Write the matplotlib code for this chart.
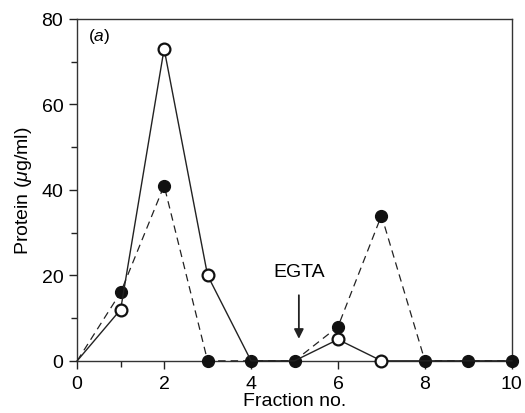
import matplotlib
matplotlib.use("Agg")
import matplotlib.pyplot as plt
from matplotlib.ticker import MultipleLocator

plt.rcParams["font.family"] = ["Liberation Sans", "DejaVu Sans"]
plt.rcParams["mathtext.fontset"] = "custom"
plt.rcParams["mathtext.rm"] = "Liberation Sans"
plt.rcParams["mathtext.it"] = "Liberation Sans:italic"

# dane
fractions = [0, 1, 2, 3, 4, 5, 6, 7, 8, 9, 10]
open_vals = [0, 12, 73, 20, 0, 0, 5, 0, 0, 0, 0]
filled_vals = [0, 16, 41, 0, 0, 0, 8, 34, 0, 0, 0]
open_marked = [1, 2, 3, 6, 7]

fig = plt.figure(figsize=(5.25, 4.14), dpi=100)
ax = fig.add_axes([0.147, 0.126, 0.828, 0.826])

ax.plot(fractions, filled_vals, ls=(0, (6, 4)), lw=0.9, color="#222222",
        marker="o", ms=8.5, mfc="#111111", mec="#111111",
        markevery=list(range(1, len(fractions))), zorder=3, clip_on=False)
ax.plot(fractions, open_vals, ls="-", lw=1.0, color="#222222",
        marker="o", ms=8.5, mfc="white", mec="#111111", mew=1.6,
        markevery=open_marked, zorder=4, clip_on=False)

ax.set_xlim(0, 10)
ax.set_ylim(0, 80)
ax.xaxis.set_major_locator(MultipleLocator(2))
ax.xaxis.set_minor_locator(MultipleLocator(1))
ax.yaxis.set_major_locator(MultipleLocator(20))
ax.yaxis.set_minor_locator(MultipleLocator(10))
ax.tick_params(which="both", direction="out", top=False, right=False,
               labelsize=14, color="#222222", pad=4)
ax.tick_params(which="major", length=6, width=1)
ax.tick_params(which="minor", length=4, width=1)
for s in ax.spines.values():
    s.set_linewidth(1.0)
    s.set_color("#333333")

ax.set_xlabel("Fraction no.", fontsize=14, labelpad=0)
ax.set_ylabel("Protein ($\\mu$g/ml)", fontsize=14, labelpad=5)

ax.text(0.25, 76, "($\\mathit{a}$)", fontsize=12.5, va="center")

ax.text(5.1, 21, "EGTA", fontsize=14, ha="center", va="center")
ax.annotate("", xy=(5.1, 4.5), xytext=(5.1, 16),
            arrowprops=dict(arrowstyle="-|>", lw=1.3, color="#222222",
                            mutation_scale=14))

fig.savefig("out.png", dpi=100)
